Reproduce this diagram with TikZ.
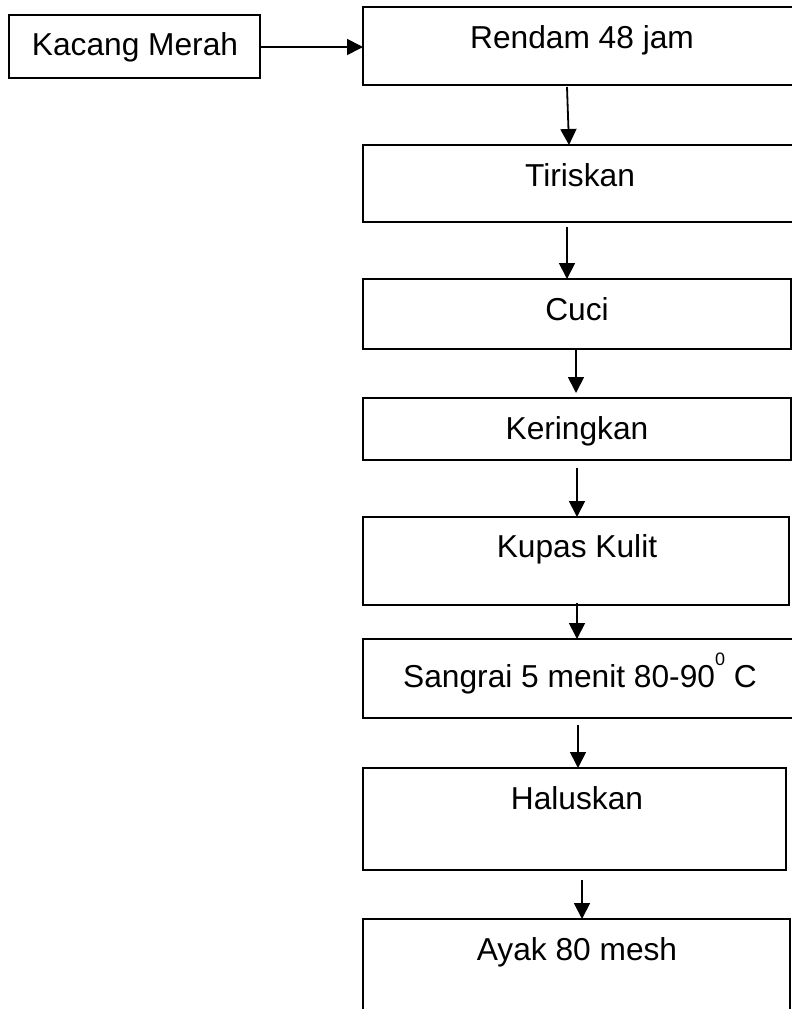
\documentclass[tikz,border=0pt]{standalone}
\usepackage{fontspec}
\setmainfont{Liberation Sans}
\usetikzlibrary{arrows.meta}
\begin{document}
\begin{tikzpicture}[x=1pt,y=-1pt,
  box/.style={draw, line width=1.8pt, rectangle, inner sep=0pt, outer sep=0pt, anchor=north west},
  lbl/.style={anchor=base, inner sep=0pt, font=\fontsize{31.7}{38}\selectfont},
  arr/.style={line width=1.8pt, -{Triangle[length=16pt,width=16pt]}}]
\useasboundingbox (0,0) rectangle (792,1009);
\clip (0,0) rectangle (792,1009);

% process boxes
\node[box, minimum width=251pt, minimum height=63pt] (kacang) at (9,15) {};
\node[box, minimum width=460pt, minimum height=78pt] (rendam) at (363,7) {};
\node[box, minimum width=460pt, minimum height=77pt] (tiriskan) at (363,145) {};
\node[box, minimum width=428pt, minimum height=70pt] (cuci) at (363,279) {};
\node[box, minimum width=428pt, minimum height=62pt] (keringkan) at (363,398) {};
\node[box, minimum width=426pt, minimum height=88pt] (kupas) at (363,517) {};
\node[box, minimum width=460pt, minimum height=79pt] (sangrai) at (363,639) {};
\node[box, minimum width=423pt, minimum height=102pt] (haluskan) at (363,768) {};
\node[box, minimum width=427pt, minimum height=120pt] (ayak) at (363,919) {};

% labels
\node[lbl] (tkacang) at (135,55) {Kacang Merah};
\node[lbl] (trendam) at (582,48) {Rendam 48 jam};
\node[lbl] (ttiriskan) at (580,186) {Tiriskan};
\node[lbl] (tcuci) at (577,320) {Cuci};
\node[lbl] (tkeringkan) at (577,439) {Keringkan};
\node[lbl] (tkupas) at (577,557) {Kupas Kulit};
\node[lbl] (tsangrai) at (580,687) {Sangrai 5 menit 80-90\raisebox{22pt}{\fontsize{18}{18}\selectfont 0} C};
\node[lbl] (thaluskan) at (577,809) {Haluskan};
\node[lbl] (tayak) at (577,960) {Ayak 80 mesh};

% connectors
\draw[arr] ([yshift=-32pt]kacang.north east) -- ([yshift=-40pt]rendam.north west);
\draw[arr] ([xshift=204pt,yshift=-2pt]rendam.south west) -- ([xshift=206pt]tiriskan.north west);
\draw[arr] ([xshift=204pt,yshift=-5pt]tiriskan.south west) -- ([xshift=204pt]cuci.north west);
\draw[arr] ([xshift=213pt]cuci.south west) -- ([xshift=213pt,yshift=5pt]keringkan.north west);
\draw[arr] ([xshift=214pt,yshift=-8pt]keringkan.south west) -- ([xshift=214pt]kupas.north west);
\draw[arr] ([xshift=214pt,yshift=2pt]kupas.south west) -- ([xshift=214pt]sangrai.north west);
\draw[arr] ([xshift=215pt,yshift=-7pt]sangrai.south west) -- ([xshift=215pt]haluskan.north west);
\draw[arr] ([xshift=219pt,yshift=-10pt]haluskan.south west) -- ([xshift=219pt]ayak.north west);
\end{tikzpicture}
\end{document}
